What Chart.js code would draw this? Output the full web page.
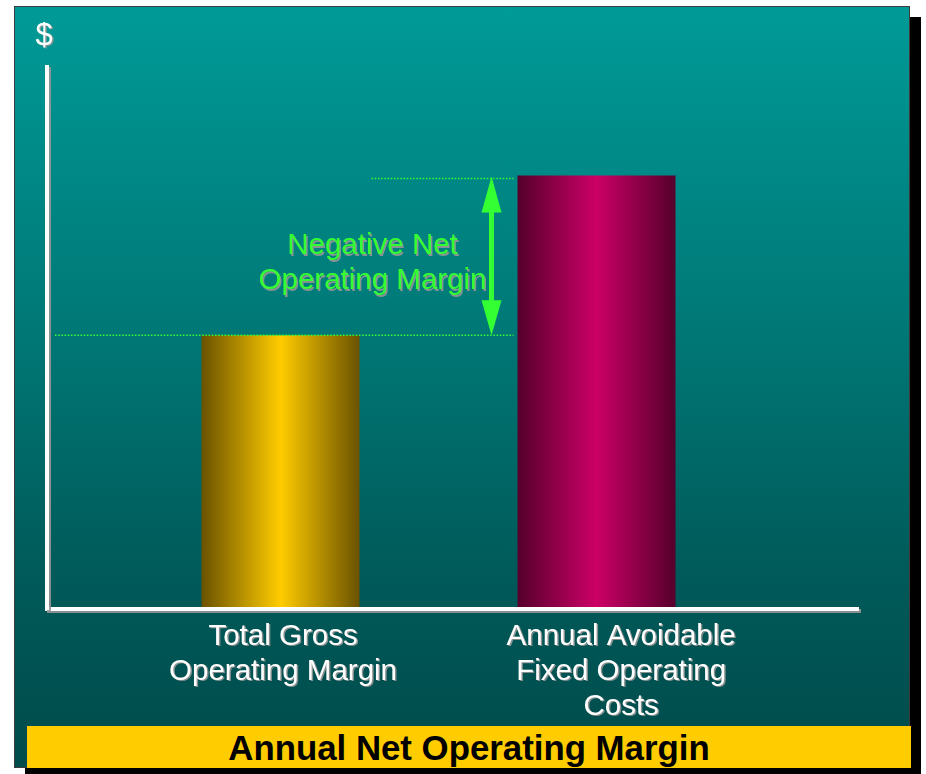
<!DOCTYPE html>
<html>
<head>
<meta charset="utf-8">
<script src="https://cdn.jsdelivr.net/npm/chart.js@4.4.1/dist/chart.umd.min.js"></script>
<style>
html,body{margin:0;padding:0;background:#ffffff;width:926px;height:774px;overflow:hidden;}
#panel{position:absolute;left:14px;top:6px;width:896px;height:762px;box-sizing:border-box;border:1px solid #3c3c3c;
  background:linear-gradient(to bottom,#009a97 0%,#007a78 40%,#005a59 75%,#004b4b 100%);box-shadow:11px 11px 0 #000;}
#banner{position:absolute;left:27px;top:726px;width:884px;height:42px;background:#ffcc00;color:#000;
  font:bold 34.8px "Liberation Sans",Arial,sans-serif;text-align:center;line-height:43px;}
#wrap{position:absolute;left:0;top:0;width:926px;height:774px;}
</style>
</head>
<body>
<div id="panel"></div>
<div id="banner">Annual Net Operating Margin</div>
<div id="wrap"><canvas id="c"></canvas></div>
<script>
// ---- data ----
const categories = [["Total Gross", "Operating Margin"], ["Annual Avoidable", "Fixed Operating", "Costs"]];
const barPositions = [1, 2];
const values = [50.5, 80];
const labelPositions = [1.008, 2.078];
const yRange = [0, 100];
const xRange = [0.261, 2.8275];
const axisSymbol = "$";
const annotationText = ["Negative Net", "Operating Margin"];

// ---- styles ----
const FONT = '"Liberation Sans", Arial, sans-serif';
const GREEN = '#33ff33';
const barStyles = [
  { edge: '#6a5200', mid: '#ffcc00' },
  { edge: '#55002c', mid: '#cc0066' }
];
const barPct = 0.5;

function barGradient(ctx) {
  const chart = ctx.chart;
  const i = ctx.dataIndex;
  const st = barStyles[i] || barStyles[0];
  if (!chart.chartArea || !chart.scales.x) return st.mid;
  const xs = chart.scales.x;
  const c = xs.getPixelForValue(barPositions[i]);
  const half = (xs.getPixelForValue(barPositions[1]) - xs.getPixelForValue(barPositions[0])) * barPct / 2;
  const g = chart.ctx.createLinearGradient(c - half, 0, c + half, 0);
  g.addColorStop(0, st.edge);
  g.addColorStop(0.5, st.mid);
  g.addColorStop(1, st.edge);
  return g;
}

const annot = {
  id: 'annot',
  afterDatasetsDraw(chart) {
    const c = chart.ctx;
    c.shadowColor = 'rgba(150,150,150,0.9)';
    c.shadowOffsetX = 1.5;
    c.shadowOffsetY = 1.5;
    c.shadowBlur = 0.5;
  },
  afterDraw(chart) {
    const c = chart.ctx, xs = chart.scales.x, ys = chart.scales.y, a = chart.chartArea;
    c.shadowColor = 'rgba(0,0,0,0)';
    c.shadowOffsetX = 0; c.shadowOffsetY = 0; c.shadowBlur = 0;
    const yLow = ys.getPixelForValue(values[0]);
    const yHigh = ys.getPixelForValue(values[1]) + 3;
    const half = (xs.getPixelForValue(barPositions[1]) - xs.getPixelForValue(barPositions[0])) * barPct / 2;
    const bar2Left = xs.getPixelForValue(barPositions[1]) - half;
    const lineEnd = bar2Left - 4;
    const arrowX = bar2Left - 26;

    // dotted guides
    c.save();
    c.strokeStyle = GREEN;
    c.lineWidth = 1.5;
    c.setLineDash([1.5, 1.7]);
    c.beginPath();
    c.moveTo(a.left + 8, yLow); c.lineTo(lineEnd, yLow);
    c.moveTo(arrowX - 120, yHigh); c.lineTo(lineEnd, yHigh);
    c.stroke();
    c.restore();

    // double arrow
    c.save();
    c.fillStyle = GREEN;
    c.strokeStyle = GREEN;
    c.lineWidth = 5;
    c.beginPath();
    c.moveTo(arrowX, yHigh + 20); c.lineTo(arrowX, yLow - 20);
    c.stroke();
    c.beginPath();
    c.moveTo(arrowX, yHigh - 2); c.lineTo(arrowX + 10, yHigh + 34); c.lineTo(arrowX - 10, yHigh + 34); c.closePath();
    c.fill();
    c.beginPath();
    c.moveTo(arrowX, yLow); c.lineTo(arrowX + 10, yLow - 35); c.lineTo(arrowX - 10, yLow - 35); c.closePath();
    c.fill();
    c.restore();

    // texts with shadow
    c.save();
    c.shadowColor = 'rgba(150,150,150,0.9)';
    c.shadowOffsetX = 1.5; c.shadowOffsetY = 1.5; c.shadowBlur = 0.5;
    c.textAlign = 'center';
    c.textBaseline = 'middle';
    c.font = '29.5px ' + FONT;
    c.fillStyle = GREEN;
    const mid = (yHigh + yLow) / 2 + 7;
    c.fillText(annotationText[0], arrowX - 119, mid - 17.5);
    c.fillText(annotationText[1], arrowX - 119, mid + 17.5);
    c.fillStyle = '#ffffff';
    c.font = '31px ' + FONT;
    c.fillText(axisSymbol, a.left - 3, a.top - 31);
    c.restore();
  }
};

new Chart(document.getElementById('c'), {
  type: 'bar',
  data: {
    datasets: [{
      data: barPositions.map((x, i) => ({ x: x, y: values[i] })),
      backgroundColor: barGradient,
      borderWidth: 0,
      barPercentage: barPct,
      categoryPercentage: 1
    }]
  },
  options: {
    responsive: true,
    maintainAspectRatio: false,
    devicePixelRatio: 1,
    animation: false,
    layout: { padding: { left: 0, top: 67, right: 68, bottom: 0 } },
    plugins: { legend: { display: false }, tooltip: { enabled: false }, title: { display: false } },
    scales: {
      x: {
        type: 'linear',
        offset: false,
        min: xRange[0],
        max: xRange[1],
        grid: { display: false, drawTicks: false },
        border: { display: true, color: '#ffffff', width: 4, z: 1 },
        afterBuildTicks: (s) => { s.ticks = labelPositions.map(v => ({ value: v })); },
        afterFit: (s) => { s.height = 165; },
        ticks: {
          z: 1,
          autoSkip: false,
          maxRotation: 0,
          minRotation: 0,
          padding: 10,
          color: '#ffffff',
          font: { family: FONT, size: 29.5, lineHeight: 1.19 },
          callback: (v, i) => categories[i]
        }
      },
      y: {
        min: yRange[0],
        max: yRange[1],
        grid: { display: false, drawTicks: false },
        border: { display: true, color: '#ffffff', width: 4, z: 1 },
        afterFit: (s) => { s.width = 47; },
        ticks: { display: false }
      }
    }
  },
  plugins: [annot]
});
</script>
</body>
</html>
